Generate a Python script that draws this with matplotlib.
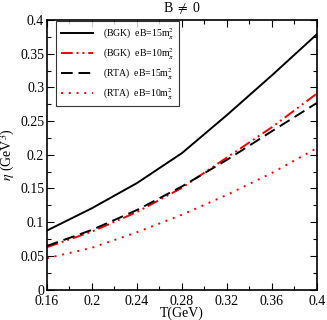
import numpy as np
import matplotlib
matplotlib.use("Agg")
import matplotlib.pyplot as plt
from matplotlib.ticker import MultipleLocator

plt.rcParams['font.family'] = ['Liberation Serif', 'DejaVu Serif']
plt.rcParams['mathtext.fontset'] = 'stix'

# values
T = [0.16, 0.20, 0.24, 0.28, 0.32, 0.36, 0.40]
bgk_15 = [0.0875, 0.1207, 0.158, 0.2025, 0.259, 0.318, 0.379]
bgk_10 = [0.0628, 0.086, 0.115, 0.151, 0.196, 0.241, 0.291]
rta_15 = [0.0647, 0.0885, 0.118, 0.153, 0.1925, 0.235, 0.277]
rta_10 = [0.0464, 0.062, 0.085, 0.111, 0.1405, 0.173, 0.210]

labels = [r'(BGK)  eB=15m$_\pi^2$', r'(BGK)  eB=10m$_\pi^2$',
          r'(RTA)  eB=15m$_\pi^2$', r'(RTA)  eB=10m$_\pi^2$']

fig = plt.figure(figsize=(3.27, 3.2), dpi=100)
ax = fig.add_axes([0.1437, 0.0953, 0.8257, 0.8422])

ax.plot(T, bgk_15, color='black', lw=1.4, ls='-', label=labels[0])
ax.plot(T, bgk_10, color='red', lw=1.4, ls=(0, (6, 2, 1, 2, 1, 2)), label=labels[1])
ax.plot(T, rta_15, color='black', lw=1.4, ls=(0, (6, 3)), label=labels[2])
ax.plot(T, rta_10, color='red', lw=1.4, ls=(0, (1, 3)), label=labels[3])

ax.set_xlim(0.16, 0.4)
ax.set_ylim(0, 0.4)
ax.xaxis.set_major_locator(MultipleLocator(0.04))
ax.xaxis.set_minor_locator(MultipleLocator(0.02))
ax.yaxis.set_major_locator(MultipleLocator(0.05))
ax.yaxis.set_minor_locator(MultipleLocator(0.025))
ax.set_xticklabels(['%g' % v for v in ax.get_xticks()])
ax.set_yticklabels(['%g' % v for v in ax.get_yticks()])
ax.tick_params(which='both', direction='in', top=True, right=True, labelsize=10)
ax.tick_params(axis='x', pad=4)
ax.tick_params(axis='y', pad=2)
ax.tick_params(which='major', length=5, width=0.8)
ax.tick_params(which='minor', length=3, width=0.8)
for s in ax.spines.values():
    s.set_linewidth(1.2)

ax.set_xlabel('T(GeV)', fontsize=10, labelpad=-1)
ax.set_ylabel(r'$\eta$ (GeV$^3$)', fontsize=10, labelpad=2)
ax.set_title(r'B $\neq$ 0', fontsize=10, pad=6)

leg = ax.legend(loc='upper left', bbox_to_anchor=(0.035, 0.997), borderaxespad=0,
                fontsize=7, frameon=True, fancybox=False, edgecolor='black',
                handlelength=3.3, handletextpad=1.0, labelspacing=0.42,
                borderpad=0.5)
leg.get_frame().set_linewidth(0.8)

fig.savefig('out.png', dpi=100)
